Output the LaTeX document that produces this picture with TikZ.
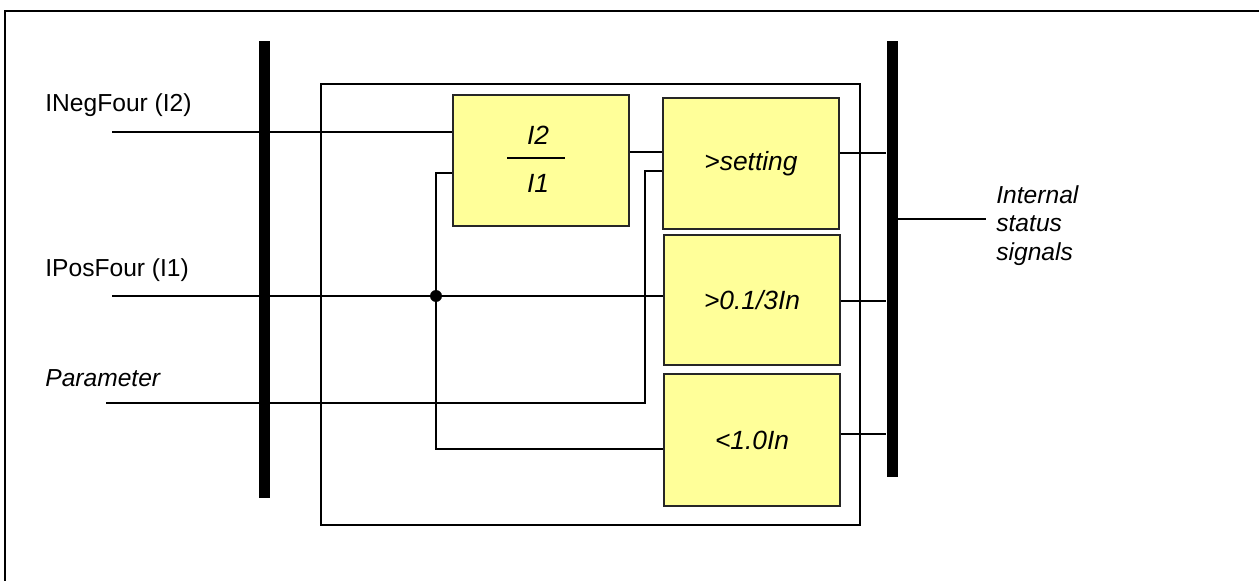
\documentclass[tikz,border=0pt]{standalone}
\usepackage{fontspec}
\setmainfont{Liberation Sans}
\definecolor{cyellow}{HTML}{FFFF99}

\begin{document}
\begin{tikzpicture}[x=0.02cm,y=-0.02cm,
  blk/.style={draw=black!85,fill=cyellow,line width=1pt,minimum width=3.52cm,
    minimum height=2.62cm,inner sep=0pt,font=\fontsize{15}{18}\selectfont\itshape},
  bus/.style={fill=black,minimum width=0.22cm,inner sep=0pt},
  lbl/.style={inner sep=0pt,anchor=base west,font=\fontsize{14}{16.2}\selectfont},
  frac/.style={inner sep=0pt,font=\fontsize{15}{18}\selectfont\itshape},
  wire/.style={line width=0.9pt}]
  \useasboundingbox (0,0) rectangle (1259,581);
  \draw[line width=1.4pt] (1259,11) -- (5,11) -- (5,581);
  \draw[wire] (321,84) rectangle (860,525);
  \node[bus,minimum height=9.14cm] (lbus) at (264,269.5) {};
  \node[bus,minimum height=8.72cm] (rbus) at (892,259) {};
  \node[blk] (ratio) at (541,160.5) {};
  \node[frac] (num) at (538,135) {I2};
  \node[frac] (den) at (538,183) {I1};
  \draw[wire] (507,158) -- (565,158);
  \node[blk] (setting) at (751,163.5) {>setting};
  \node[blk,minimum height=2.6cm] (low) at (752,300) {>0.1/3In};
  \node[blk,minimum height=2.64cm] (high) at (752,440) {<1.0In};
  \coordinate (in2) at (112,132);
  \coordinate (in1) at (112,296);
  \coordinate (inp) at (106,403);
  \coordinate (jn) at (436,296);
  \coordinate (out) at (986,219);
  \node[lbl] (l2) at (45,112) {INegFour (I2)};
  \node[lbl] (l1) at (45,276) {IPosFour (I1)};
  \node[lbl,font=\fontsize{14}{16.2}\selectfont\itshape] (lp) at (45,386) {Parameter};
  \node[lbl,font=\fontsize{14}{16.2}\selectfont\itshape,align=left] (sig) at (996,260)
    {Internal\\status\\signals};
  \draw[wire] (in2) -- (in2 -| ratio.west);
  \draw[wire] (in1) -- (in1 -| low.west);
  \draw[wire] (ratio.west |- 0,173) -| (jn) |- (high.west |- 0,449);
  \draw[wire] (inp) -| (645,171) -- (setting.west |- 0,171);
  \draw[wire] (ratio.east |- 0,152) -- (setting.west |- 0,152);
  \draw[wire] (setting.east |- 0,153) -- (rbus.west |- 0,153);
  \draw[wire] (low.east |- 0,301) -- (rbus.west |- 0,301);
  \draw[wire] (high.east |- 0,434) -- (rbus.west |- 0,434);
  \draw[wire] (rbus.east |- out) -- (out);
  \fill (jn) circle (0.12cm);
\end{tikzpicture}
\end{document}
